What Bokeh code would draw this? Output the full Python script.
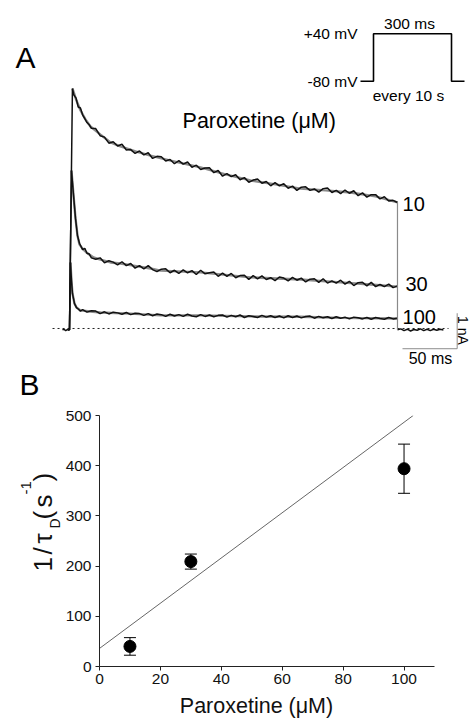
import math
from bokeh.plotting import figure
from bokeh.models import Range1d, Whisker, TeeHead, ColumnDataSource
from bokeh.layouts import column, row
from bokeh.embed import file_html
from bokeh.resources import INLINE
from bokeh.core.properties import value

FONT = "Liberation Sans"

# ---------------- Panel A data (time in ms, current in nA) ----------------
t_grid = [24, 28, 32, 36, 40, 44, 48, 52, 56, 60, 64, 68, 72, 76, 80, 84, 88, 92, 96, 100,
          104, 108, 112, 116, 120, 124, 128, 132, 136, 140, 144, 148, 152, 156, 160, 164, 168,
          172, 176, 180, 184, 188, 192, 196, 200, 204, 208, 212, 216, 220, 224, 228, 232, 236,
          240, 244, 248, 252, 256, 260, 264, 268, 272, 276, 280, 284, 288, 292, 296, 300]

t10_early = [0, 2.7, 4, 6, 8, 10, 12, 14, 16, 18, 20]
i10_early = [-0.04, 6.76, 6.58, 6.49, 6.24, 6.21, 6.02, 5.91, 5.80, 5.74, 5.64]
i10_grid = [5.63, 5.43, 5.39, 5.22, 5.26, 5.14, 5.19, 5.03, 5.04, 4.93,
            5.00, 4.89, 4.95, 4.79, 4.85, 4.84, 4.72, 4.76, 4.64, 4.73,
            4.63, 4.69, 4.54, 4.60, 4.48, 4.52, 4.53, 4.39, 4.45, 4.29,
            4.36, 4.28, 4.33, 4.19, 4.25, 4.12, 4.18, 4.21, 4.09, 4.14,
            4.02, 4.11, 4.02, 4.08, 3.95, 4.01, 3.89, 3.98, 3.99, 3.89,
            3.93, 3.84, 3.94, 3.96, 3.83, 3.89, 3.80, 3.90, 3.81, 3.88,
            3.74, 3.82, 3.70, 3.77, 3.77, 3.65, 3.71, 3.59, 3.61, 3.55]

t30_early = [0, 1.8, 3.7, 5.5, 7.3, 9.1, 12, 14, 16, 18, 20]
i30_early = [-0.04, 4.45, 3.75, 3.10, 2.62, 2.40, 2.22, 2.26, 2.12, 2.10, 1.99]
i30_grid = [1.95, 1.99, 1.85, 1.91, 1.87, 1.79, 1.88, 1.77, 1.83, 1.70,
            1.77, 1.68, 1.77, 1.66, 1.60, 1.67, 1.68, 1.57, 1.64, 1.55,
            1.65, 1.57, 1.63, 1.52, 1.64, 1.54, 1.57, 1.59, 1.47, 1.56,
            1.47, 1.55, 1.43, 1.49, 1.50, 1.38, 1.49, 1.40, 1.48, 1.38,
            1.43, 1.35, 1.45, 1.42, 1.34, 1.44, 1.36, 1.42, 1.31, 1.39,
            1.40, 1.30, 1.40, 1.28, 1.34, 1.28, 1.36, 1.25, 1.33, 1.21,
            1.29, 1.30, 1.20, 1.30, 1.18, 1.24, 1.18, 1.25, 1.15, 1.20]

t100_early = [0, 0.9, 1.8, 2.7, 4.6, 6.4, 8, 10, 12, 16, 20]
i100_early = [-0.04, 1.86, 1.35, 0.99, 0.70, 0.59, 0.55, 0.49, 0.53, 0.46, 0.50]
i100_grid = [0.49, 0.42, 0.47, 0.41, 0.46, 0.44, 0.40, 0.45, 0.39, 0.43,
             0.42, 0.37, 0.42, 0.36, 0.41, 0.39, 0.34, 0.40, 0.35, 0.39,
             0.34, 0.40, 0.35, 0.33, 0.39, 0.34, 0.38, 0.33, 0.37, 0.38,
             0.32, 0.37, 0.33, 0.38, 0.31, 0.36, 0.34, 0.31, 0.37, 0.32,
             0.36, 0.31, 0.35, 0.30, 0.36, 0.31, 0.35, 0.30, 0.34, 0.35,
             0.29, 0.34, 0.30, 0.33, 0.28, 0.33, 0.29, 0.32, 0.27, 0.32,
             0.30, 0.27, 0.31, 0.26, 0.31, 0.28, 0.26, 0.31, 0.27, 0.29]

# fitted decay curves (grey, under the raw traces)
fit10_t = [2.7, 6.4, 10.1, 14.6, 19.2, 28.4, 37.5, 46.6, 60.4, 74.1, 92.4, 119.8, 142.7,
           165.6, 188.4, 211.3, 234.2, 257.0, 279.9, 300]
fit10_i = [6.76, 6.42, 6.14, 5.89, 5.69, 5.46, 5.24, 5.13, 4.99, 4.87, 4.73, 4.54, 4.34,
           4.17, 4.06, 3.94, 3.89, 3.83, 3.72, 3.55]
fit30_t = [1.8, 3.7, 5.5, 7.3, 9.1, 11.9, 15.5, 22.0, 28.4, 37.5, 46.6, 58.5, 74.1, 83.2,
           119.8, 165.6, 211.3, 247.9, 275.3, 300]
fit30_i = [4.45, 3.75, 3.10, 2.62, 2.37, 2.25, 2.14, 2.00, 1.94, 1.86, 1.83, 1.77, 1.69, 1.63,
           1.58, 1.44, 1.38, 1.30, 1.24, 1.18]
fit100_t = [0.9, 1.8, 2.7, 4.6, 6.4, 10.1, 19.2, 28.4, 55.8, 83.2, 119.8, 165.6, 211.3, 247.9, 300]
fit100_i = [1.86, 1.35, 0.99, 0.70, 0.59, 0.51, 0.48, 0.45, 0.42, 0.37, 0.37, 0.34, 0.33, 0.30, 0.28]

pre_t = [-6.4, -5, -3.5, -2, -0.5, 0]
pre_i = [-0.04, -0.02, -0.06, -0.03, -0.05, -0.04]
post_t = [300, 303, 306, 309, 312, 315, 318, 321, 324, 327, 330, 333, 336, 339, 342]
post_i = [-0.04, -0.01, -0.06, -0.02, -0.07, -0.03, -0.05, -0.01, -0.06, -0.02, -0.06,
          -0.02, -0.05, -0.02, -0.04]

conc_labels = ["10", "30", "100"]

# scale bars
sb_ms = 50
sb_na = 1

# voltage protocol (ms, mV)
prot_t = [-50, 0, 0, 300, 300, 350]
prot_v = [-80, -80, 40, 40, -80, -80]

# ---------------- Panel B data ----------------
conc = [10, 30, 100]
rate = [40, 209, 394]
rate_err = [17.5, 15, 49]
fit_x = [0, 103]
fit_y = [36, 500]
x_ticks = [0, 20, 40, 60, 80, 100]
y_ticks = [0, 100, 200, 300, 400, 500]

# ======================= Panel A =======================
pa = figure(width=471, height=368, x_range=Range1d(-63.1, 367.7), y_range=Range1d(-1.127, 9.239),
            x_axis_location=None, y_axis_location=None, toolbar_location=None,
            output_backend="svg", min_border=0, outline_line_color=None)
pa.frame_align = False
pa.grid.visible = False
pa.extra_x_ranges = {"px": Range1d(-1434.6, 376.9)}
pa.extra_y_ranges = {"pv": Range1d(-807.3, 124.3)}

# zero-current dotted line
pa.line([-15.5, 346.7], [0, 0], line_color="#222222", line_width=1, line_dash="2 3")

grey = "#8a8a8a"
for ft, fi in [(fit10_t, fit10_i), (fit30_t, fit30_i), (fit100_t, fit100_i)]:
    pa.line(ft, fi, line_color=grey, line_width=2.4)

trace_col = "#111111"
for te, ie, ig in [(t10_early, i10_early, i10_grid), (t30_early, i30_early, i30_grid),
                   (t100_early, i100_early, i100_grid)]:
    pa.line(te + t_grid, ie + ig, line_color=trace_col, line_width=1.5)

pa.line(pre_t, pre_i, line_color=trace_col, line_width=1.5)
pa.line(post_t, post_i, line_color=trace_col, line_width=1.5)
# drop back to baseline at the end of the pulse
pa.line([t_grid[-1], t_grid[-1]], [i10_grid[-1], post_i[0]], line_color=grey, line_width=1.2)

# concentration labels
pa.text(x=[304.6, 307.3, 304.6], y=[i10_grid[-1] - 0.03, i30_grid[-1] + 0.05, i100_grid[-1] + 0.02],
        text=conc_labels, text_font=value(FONT), text_font_size="20px",
        text_align="left", text_baseline="middle", text_color="black")
pa.text(x=[103.4], y=[5.85], text=["Paroxetine (\u03bcM)"], text_font=value(FONT),
        text_font_size="21.5px", text_align="left", text_baseline="middle", text_color="black")
pa.text(x=[-40.2], y=[7.62], text=["A"], text_font=value(FONT), text_font_size="30px",
        text_align="center", text_baseline="middle", text_color="black")

# scale bars
sb_x0 = 304.6
sb_y0 = -0.57
pa.line([sb_x0, sb_x0 + sb_ms, sb_x0 + sb_ms], [sb_y0, sb_y0, sb_y0 + sb_na],
        line_color="#8c8c8c", line_width=1)
pa.text(x=[330.2], y=[-0.845], text=["%d ms" % sb_ms], text_font=value(FONT), text_font_size="16px",
        text_align="center", text_baseline="middle", text_color="black")
pa.text(x=[360.3], y=[-0.056], text=["%d nA" % sb_na], text_font=value(FONT), text_font_size="14px",
        text_align="center", text_baseline="middle", text_color="black", angle=-math.pi / 2)

# voltage protocol inset
pa.line(prot_t, prot_v, x_range_name="px", y_range_name="pv", line_color="black", line_width=1.6)
pa.text(x=[-61.5, -61.5], y=[prot_v[2], prot_v[0]], text=["+40 mV", "-80 mV"],
        x_range_name="px", y_range_name="pv", text_font=value(FONT), text_font_size="15.5px",
        text_align="right", text_baseline="middle", text_color="black")
pa.text(x=[138.5, 134.6], y=[66.8, -116.2], text=["300 ms", "every 10 s"],
        x_range_name="px", y_range_name="pv", text_font=value(FONT), text_font_size="15.5px",
        text_align="center", text_baseline="middle", text_color="black")

# ======================= Panel B: label strip (left) =======================
pl = figure(width=62, height=350, x_range=Range1d(0, 62), y_range=Range1d(718, 368),
            x_axis_location=None, y_axis_location=None, toolbar_location=None,
            output_backend="svg", min_border=0, outline_line_color=None)
pl.frame_align = False
pl.grid.visible = False

ylab_text = ["1", "/", "\u03c4", "D", "(", "s", "-1", ")"]
ylab_x = [42, 42, 42, 54, 42, 42, 25, 42]
ylab_y = [571, 554, 543, 528, 519, 507, 494, 481]
ylab_fs = ["26px", "26px", "26px", "14px", "26px", "26px", "15px", "26px"]
for tx, xx, yy, fs in zip(ylab_text, ylab_x, ylab_y, ylab_fs):
    pl.text(x=[xx], y=[yy], text=[tx], angle=math.pi / 2, text_font=value(FONT),
            text_font_size=fs, text_align="left", text_baseline="alphabetic", text_color="#111111")
pl.text(x=[29], y=[384], text=["B"], text_font=value(FONT), text_font_size="30px",
        text_align="center", text_baseline="middle", text_color="black")

# ======================= Panel B: plot =======================
pb = figure(width=409, height=324, x_range=Range1d(0, 110), y_range=Range1d(0, 500),
            toolbar_location=None, output_backend="svg", outline_line_color=None,
            min_border_left=37, min_border_right=37, min_border_top=47, min_border_bottom=26)
pb.frame_align = False
pb.grid.visible = False
pb.xaxis.ticker = x_ticks
pb.yaxis.ticker = y_ticks
for ax in (pb.xaxis, pb.yaxis):
    ax.axis_line_color = "#222222"
    ax.major_tick_line_color = "#222222"
    ax.major_tick_out = 4
    ax.major_tick_in = 0
    ax.minor_tick_out = 0
    ax.minor_tick_in = 0
    ax.major_label_text_font = FONT
    ax.major_label_text_font_size = "15.5px"
    ax.major_label_text_color = "#111111"
pb.yaxis.major_label_standoff = 4
pb.xaxis.major_label_standoff = 3

pb.line(fit_x, fit_y, line_color="#666666", line_width=1)

src = ColumnDataSource(dict(x=conc, y=rate,
                            upper=[r + e for r, e in zip(rate, rate_err)],
                            lower=[r - e for r, e in zip(rate, rate_err)]))
wh = Whisker(source=src, base="x", upper="upper", lower="lower", line_color="black", line_width=1,
             upper_head=TeeHead(size=12, line_color="black", line_width=1),
             lower_head=TeeHead(size=12, line_color="black", line_width=1))
pb.add_layout(wh)
pb.scatter("x", "y", source=src, size=12, color="black")

# ======================= Panel B: x-axis title strip =======================
pbot = figure(width=409, height=26, x_range=Range1d(62, 471), y_range=Range1d(718, 692),
              x_axis_location=None, y_axis_location=None, toolbar_location=None,
              output_backend="svg", min_border=0, outline_line_color=None)
pbot.frame_align = False
pbot.grid.visible = False
pbot.text(x=[256], y=[705], text=["Paroxetine (\u03bcM)"], text_font=value(FONT),
          text_font_size="21.5px", text_align="center", text_baseline="middle", text_color="#111111")

layout = column(pa, row(pl, column(pb, pbot)))
open("out.html", "w").write(file_html(layout, INLINE))
